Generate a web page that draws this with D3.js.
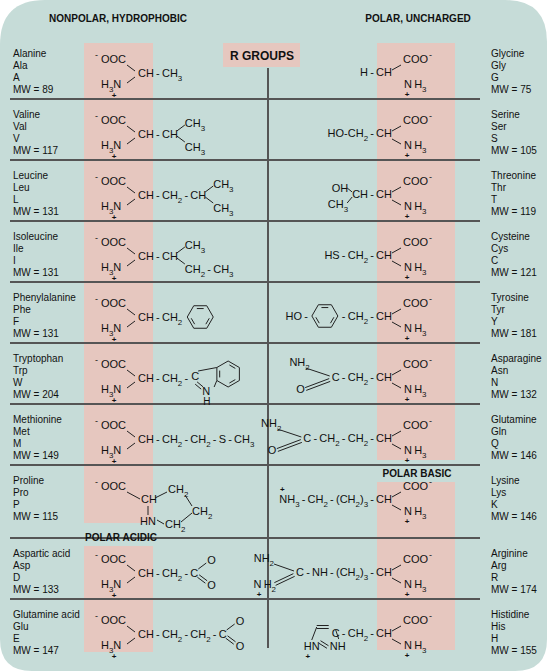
<!DOCTYPE html>
<html><head><meta charset="utf-8">
<script src="https://cdn.jsdelivr.net/npm/d3@7"></script>
<style>body{margin:0;background:#fff}text{font-family:"Liberation Sans",Arial,sans-serif;fill:#111}</style>
</head><body><div id="chart"></div>
<script>
// amino acid tables, left column (nonpolar + acidic)
var leftNames = ["Alanine","Valine","Leucine","Isoleucine","Phenylalanine","Tryptophan","Methionine","Proline","Aspartic acid","Glutamine acid"];
var leftThree = ["Ala","Val","Leu","Ile","Phe","Trp","Met","Pro","Asp","Glu"];
var leftOne = ["A","V","L","I","F","W","M","P","D","E"];
var leftMW = [89,117,131,131,131,204,149,115,133,147];
// right column (polar uncharged + basic)
var rightNames = ["Glycine","Serine","Threonine","Cysteine","Tyrosine","Asparagine","Glutamine","Lysine","Arginine","Histidine"];
var rightThree = ["Gly","Ser","Thr","Cys","Tyr","Asn","Gln","Lys","Arg","His"];
var rightOne = ["G","S","T","C","Y","N","Q","K","R","H"];
var rightMW = [75,105,119,121,181,132,146,146,174,155];
// side chains (text parts, "_" = subscript)
var leftChains = ["CH - CH_3","CH - CH","CH - CH_2 - CH","CH - CH","CH - CH_2","CH - CH_2 -","CH - CH_2 - CH_2 - S - CH_3","CH","CH - CH_2 - C","CH - CH_2 - CH_2 - C"];
var rightChains = ["H - CH","HO-CH_2 - CH","CH - CH","HS - CH_2 - CH","- CH_2 - CH","C - CH_2 - CH","C - CH_2 - CH_2 - CH","NH_3 - CH_2 - (CH_2)_3 - CH","C - NH - (CH_2)_3 - CH","C - CH_2 - CH"];
var headers = ["NONPOLAR, HYDROPHOBIC","POLAR, UNCHARGED","R GROUPS","POLAR BASIC","POLAR ACIDIC"];

var W = 547, H = 671, bg = "#c6dcd8", pink = "#e6c7bf", ink = "#222";
var svg = d3.select("#chart").append("svg").attr("width",W).attr("height",H);

// row scale: 10 rows, acidic header pushes last two down
var rowTop = function(i){ return 38 + 61*i + (i>=8 ? 12 : 0); };
var base = function(i){ return rowTop(i) + 19; };

// background with rounded corners
var p = d3.path();
p.moveTo(45,0); p.lineTo(W-42,0); p.quadraticCurveTo(W,0,W,42);
p.lineTo(W,H-32); p.quadraticCurveTo(W,H,W-32,H);
p.lineTo(32,H); p.quadraticCurveTo(0,H,0,H-32);
p.lineTo(0,45); p.quadraticCurveTo(0,0,45,0); p.closePath();
svg.append("path").attr("d",p.toString()).attr("fill",bg);

// pink bands
[[84,43,69,480],[84,546,69,106],[377,43,78,417],[377,482,78,168],[223,43,77,24]].forEach(function(r){
  svg.append("rect").attr("x",r[0]).attr("y",r[1]).attr("width",r[2]).attr("height",r[3]).attr("fill",pink);
});

// dividers
for (var i=1;i<10;i++){
  svg.append("line").attr("x1",10).attr("x2",480).attr("y1",rowTop(i)).attr("y2",rowTop(i)).attr("stroke","#555").attr("stroke-width",2);
}
svg.append("line").attr("x1",268).attr("x2",268).attr("y1",68).attr("y2",648).attr("stroke","#555").attr("stroke-width",2);

// headers
function bold(x,y,t,size){ svg.append("text").attr("x",x).attr("y",y).attr("text-anchor","middle").attr("font-size",size).attr("font-weight","bold").text(t); }
bold(118,22,headers[0],10);
bold(418,22,headers[1],10);
bold(262,60,headers[2],12);
bold(417,477,headers[3],10);
bold(121,541,headers[4],10);

// chem text with subscripts
function chem(g,x,y,s,anchor,size){
  size = size || 11;
  s = s.replace(/ /g,"\u2009");
  var t = g.append("text").attr("x",x).attr("y",y).attr("font-size",size).attr("text-anchor",anchor||"start");
  var i=0, pend=0;
  while(i<s.length){
    if(s[i]=="_"){
      t.append("tspan").attr("dy",4+pend).attr("font-size",size*0.72).text(s[i+1]); pend=-4; i+=2;
    } else {
      var j=i; while(j<s.length && s[j]!="_") j++;
      t.append("tspan").attr("dy",pend).text(s.slice(i,j)); pend=0; i=j;
    }
  }
  return t;
}
function ln(g,x1,y1,x2,y2){ g.append("line").attr("x1",x1).attr("y1",y1).attr("x2",x2).attr("y2",y2).attr("stroke",ink).attr("stroke-width",1); }
function dbl(g,x1,y1,x2,y2){
  var dx=x2-x1, dy=y2-y1, l=Math.hypot(dx,dy), ox=-dy/l*1.5, oy=dx/l*1.5;
  ln(g,x1+ox,y1+oy,x2+ox,y2+oy); ln(g,x1-ox,y1-oy,x2-ox,y2-oy);
}
function hex(g,cx,cy,r,rot){
  var pts = d3.range(6).map(function(k){ var a=(rot+60*k)*Math.PI/180; return [cx+r*Math.cos(a), cy+r*Math.sin(a)]; });
  g.append("polygon").attr("points",pts.join(" ")).attr("fill","none").attr("stroke",ink);
  [0,2,4].forEach(function(k){
    var a=pts[k], b=pts[(k+1)%6];
    var f=0.75, ax=cx+(a[0]-cx)*f, ay=cy+(a[1]-cy)*f, bx=cx+(b[0]-cx)*f, by=cy+(b[1]-cy)*f;
    ln(g,ax+(bx-ax)*0.15,ay+(by-ay)*0.15,bx-(bx-ax)*0.15,by-(by-ay)*0.15);
  });
}
function plus(g,x,y){ g.append("text").attr("x",x).attr("y",y).attr("font-size",8).attr("font-weight","bold").attr("text-anchor","middle").text("+"); }
function len(t){ return t.node().getComputedTextLength(); }

// labels
function labels(x,i,arr){
  var L = base(i);
  svg.append("text").attr("x",x).attr("y",L).attr("font-size",10).text(arr[0][i]);
  svg.append("text").attr("x",x).attr("y",L+12).attr("font-size",10).text(arr[1][i]);
  svg.append("text").attr("x",x).attr("y",L+24).attr("font-size",10).text(arr[2][i]);
  svg.append("text").attr("x",x).attr("y",L+36).attr("font-size",10).text("MW = "+arr[3][i]);
}
d3.range(10).forEach(function(i){
  labels(13,i,[leftNames,leftThree,leftOne,leftMW]);
  labels(491,i,[rightNames,rightThree,rightOne,rightMW]);
});

// left structures
d3.range(10).forEach(function(i){
  var g = svg.append("g"), L = base(i);
  var pro = leftNames[i]=="Proline";
  g.append("text").attr("x",95).attr("y",L+1).attr("font-size",9).text("-");
  chem(g,101,L+6,"OOC");
  if (!pro){
    ln(g,127,L+8,135,L+14);
    chem(g,101,L+31,"H_3N");
    plus(g,114,L+41);
    ln(g,127,L+26,135,L+20);
  }
  if (pro){
    ln(g,127,L+8,140,L+15);
    chem(g,141,L+19,"CH");
    ln(g,155,L+14,167,L+8);
    chem(g,168,L+9,"CH_2");
    ln(g,185,L+11,192,L+22);
    chem(g,192,L+31,"CH_2");
    ln(g,148,L+22,148,L+31);
    chem(g,140,L+41,"HN");
    ln(g,157,L+36,164,L+40);
    chem(g,165,L+44,"CH_2");
    ln(g,181,L+38,192,L+29);
    return;
  }
  var t = chem(g,138,L+20,leftChains[i]);
  var e = 138 + len(t);
  var n = leftNames[i];
  if (n=="Valine"||n=="Leucine"||n=="Isoleucine"){
    ln(g,e-1,L+13,e+7,L+7); chem(g,e+7,L+9,"CH_3");
    ln(g,e-1,L+18,e+7,L+24); chem(g,e+7,L+33,n=="Isoleucine"?"CH_2 - CH_3":"CH_3");
  }
  if (n=="Phenylalanine") hex(g,e+18,L+16,13,0);
  if (n=="Tryptophan"){
    chem(g,e+3,L+18,"C");
    hex(g,e+40,L+12,13,-90);
    var ul=[e+40-11.3,L+5.5], ll=[e+40-11.3,L+18.5];
    ln(g,e+10,L+9,ul[0],ul[1]);
    ln(g,ll[0],ll[1],e+26,L+25);
    dbl(g,e+8,L+21,e+14,L+26);
    chem(g,e+14,L+33,"N"); chem(g,e+15,L+43,"H",null,10);
  }
  if (n=="Aspartic acid"||n=="Glutamine acid"){
    ln(g,e,L+12,e+8,L+6); chem(g,e+9,L+7,"O");
    dbl(g,e,L+19,e+8,L+25); chem(g,e+9,L+32,"O");
  }
});

// right structures
d3.range(10).forEach(function(i){
  var g = svg.append("g"), L = base(i), n = rightNames[i];
  ln(g,392,L+13,401,L+8);
  chem(g,403,L+6,"COO");
  g.append("text").attr("x",429).attr("y",L+1).attr("font-size",9).text("-");
  chem(g,404,L+31,"N H_3");
  plus(g,407,L+40);
  if (n!="Glycine") ln(g,392,L+21,401,L+26);
  var t = chem(g,392,L+19,rightChains[i],"end");
  var s = 392 - len(t);
  if (n=="Threonine"){
    chem(g,s-4,L+13,"OH","end"); ln(g,s-5,L+9,s,L+13);
    chem(g,s-4,L+29,"CH_3","end"); ln(g,s-5,L+24,s,L+18);
  }
  if (n=="Tyrosine"){
    hex(g,s-17,L+15,13,0);
    chem(g,s-34,L+19,"HO -","end");
  }
  if (n=="Asparagine"||n=="Glutamine"){
    chem(g,s-22,L+4,"NH_2","end");
    ln(g,s-26,L+6,s-2,L+14);
    dbl(g,s-26,L+27,s-2,L+18);
    chem(g,s-27,L+31,"O","end");
  }
  if (n=="Lysine") plus(g,s+3,L+8);
  if (n=="Arginine"){
    chem(g,s-22,L+5,"NH_2","end");
    ln(g,s-22,L+7,s-2,L+14);
    dbl(g,s-21,L+27,s-2,L+18);
    chem(g,s-20,L+31,"N H_2","end");
    plus(g,s-37,L+40);
  }
  if (n=="Histidine"){
    dbl(g,s-15,L+9,s-3,L+9);
    ln(g,s-15,L+9,s-20,L+22);
    ln(g,s+4,L+12,s+7,L+21);
    chem(g,s-28,L+32,"HN");
    chem(g,s-2,L+32,"NH");
    dbl(g,s-12,L+24,s-4,L+29);
    plus(g,s-24,L+41);
  }
});
</script></body></html>
